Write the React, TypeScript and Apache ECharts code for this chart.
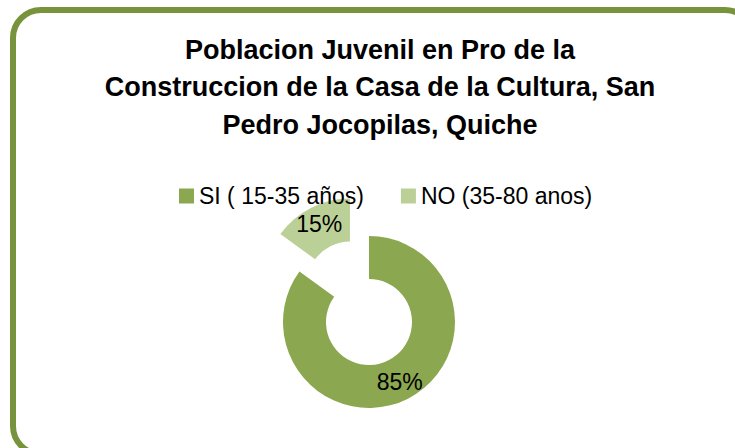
import React, { useEffect, useRef } from "react";
import * as echarts from "echarts";

const titleLines = [
  "Poblacion Juvenil en Pro de la",
  "Construccion de la Casa de la Cultura, San",
  "Pedro Jocopilas, Quiche",
];
const categories = ["SI ( 15-35 años)", "NO (35-80 anos)"];
const values = [85, 15];
const colors = ["#8BA750", "#BBD096"];
const explodedIndex = 1;

const FONT = "'Liberation Sans', Arial, sans-serif";

export default function App() {
  const ref = useRef<HTMLDivElement>(null);
  useEffect(() => {
    if (!ref.current) return;
    const chart = echarts.init(ref.current, undefined, { renderer: "svg" });
    const titleY = [49.5, 87.2, 125.3];
    chart.setOption({
      animation: false,
      backgroundColor: "#ffffff",
      graphic: [
        {
          type: "rect",
          z: 0,
          shape: { x: 13, y: 10, width: 740, height: 444, r: 28 },
          style: { fill: "none", stroke: "#77933C", lineWidth: 6 },
        },
        ...titleLines.map((t, i) => ({
          type: "text",
          z: 10,
          x: 380,
          y: titleY[i],
          style: {
            text: t,
            fill: "#000000",
            font: `bold 27px ${FONT}`,
            textAlign: "center",
            textVerticalAlign: "middle",
          },
        })),
      ],
      legend: {
        left: 174,
        top: 179,
        itemWidth: 15,
        itemHeight: 15,
        itemGap: 37,
        icon: "rect",
        selectedMode: false,
        data: categories,
        textStyle: {
          fontFamily: FONT,
          fontSize: 23,
          lineHeight: 24,
          color: "#000000",
          padding: [0, 0, 0, 0],
        },
      },
      series: [
        {
          type: "pie",
          center: [369, 322],
          radius: [43, 86],
          startAngle: 90,
          clockwise: true,
          selectedMode: "single",
          selectedOffset: 42,
          avoidLabelOverlap: false,
          label: {
            show: true,
            position: "inside",
            formatter: "{d}%",
            fontFamily: FONT,
            fontSize: 23,
            color: "#000000",
          },
          labelLine: { show: false },
          emphasis: { disabled: true },
          data: categories.map((name, i) => ({
            name,
            value: values[i],
            selected: i === explodedIndex,
            itemStyle: { color: colors[i] },
            select: { itemStyle: { color: colors[i] } },
          })),
        },
      ],
    });
    return () => chart.dispose();
  }, []);
  return (
    <div
      ref={ref}
      style={{ position: "absolute", left: 0, top: 0, width: 735, height: 448 }}
    />
  );
}
